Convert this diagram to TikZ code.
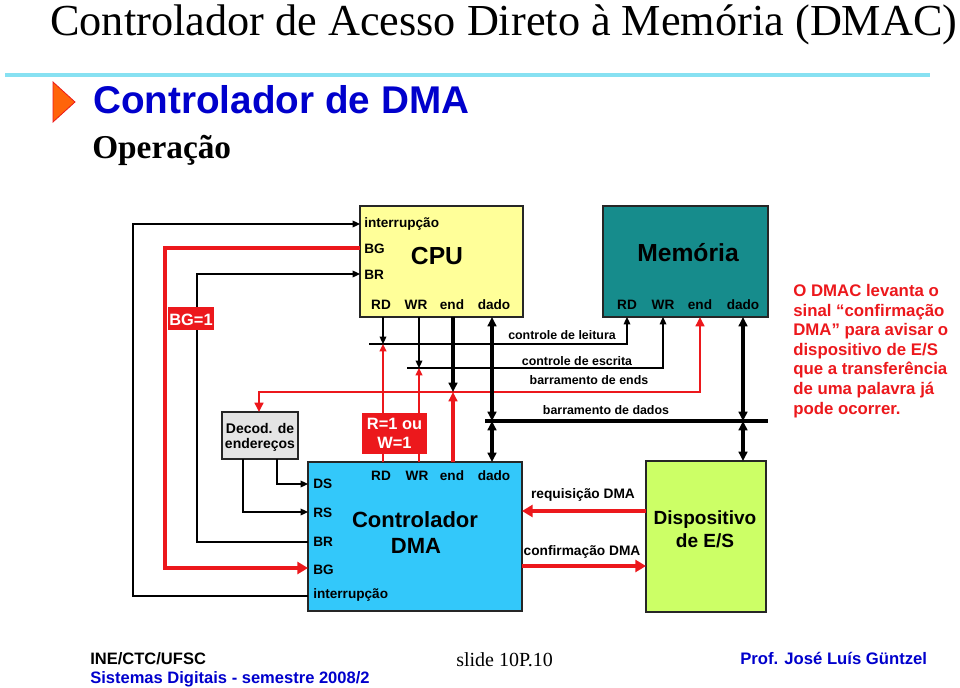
\documentclass[tikz,border=0pt]{standalone}
\usepackage{fontspec}
\setmainfont{Liberation Serif}
\setsansfont{Liberation Sans}
\usetikzlibrary{arrows.meta,fit}
\definecolor{cpuY}{RGB}{255,255,153}
\definecolor{memT}{RGB}{22,140,140}
\definecolor{dmaB}{RGB}{51,200,250}
\definecolor{ioG}{RGB}{204,255,102}
\definecolor{decG}{RGB}{228,228,228}
\definecolor{sigR}{RGB}{236,24,28}
\definecolor{titleB}{RGB}{0,0,204}
\definecolor{ruleC}{RGB}{135,225,242}
\definecolor{triO}{RGB}{255,100,10}
\newcommand{\fsz}[2]{\fontsize{#1}{#2}\selectfont}
\begin{document}
\begin{tikzpicture}[x=0.75pt,y=-0.75pt,
  boxst/.style={draw=black!85, line width=0.8pt, inner sep=0pt},
  lbl/.style={font=\sffamily\bfseries\fsz{10.2}{12}, inner sep=0pt, anchor=base},
  lblw/.style={lbl, anchor=base west},
  buslbl/.style={font=\sffamily\bfseries\fsz{9.3}{11}, inner sep=0pt, anchor=base},
  thinw/.style={line width=0.9pt, draw=black},
  thickw/.style={line width=2.3pt, draw=black},
  redthin/.style={line width=1.1pt, draw=sigR},
  redmid/.style={line width=1.8pt, draw=sigR},
  redthick/.style={line width=3pt, draw=sigR},
  tipS/.tip={Triangle[length=5.5pt,width=5pt]},
  tipM/.tip={Triangle[length=7pt,width=6.5pt]},
  tipL/.tip={Triangle[length=8pt,width=9pt]},
]
\useasboundingbox (0,0) rectangle (960,688);

% ---------- header ----------
\node[anchor=base west, inner sep=0pt, font=\rmfamily\fsz{33.2}{36}] (title) at (50,36)
  {Controlador de Acesso Direto à Memória (DMAC)};
\coordinate (ruleA) at (5,75);
\coordinate (ruleB) at (930,75);
\draw[ruleC, line width=2.3pt] (ruleA) -- (ruleB);
\filldraw[fill=triO, draw=sigR, line width=0.6pt] (53,82) -- (75,102) -- (53,122) -- cycle;
\node[anchor=base west, inner sep=0pt, text=titleB, font=\sffamily\bfseries\fsz{29}{32}] (sub) at (93,114)
  {Controlador de DMA};
\node[anchor=base west, inner sep=0pt, font=\rmfamily\bfseries\fsz{25}{28}] (oper) at (92,159)
  {Operação};

% ---------- boxes ----------
\coordinate (cpuA) at (360,206); \coordinate (cpuB) at (523,317);
\node[boxst, fill=cpuY, fit=(cpuA)(cpuB)] (cpu) {};
\coordinate (memA) at (603,206); \coordinate (memB) at (768,317);
\node[boxst, fill=memT, fit=(memA)(memB)] (mem) {};
\coordinate (dmaA) at (308,462); \coordinate (dmaB) at (522,611);
\node[boxst, fill=dmaB, fit=(dmaA)(dmaB)] (dma) {};
\coordinate (ioA) at (646,461); \coordinate (ioB) at (766,612);
\node[boxst, fill=ioG, fit=(ioA)(ioB)] (io) {};
\coordinate (decA) at (222,412); \coordinate (decB) at (298,459);
\node[boxst, fill=decG, fit=(decA)(decB)] (dec) {};

% CPU texts
\node[lblw] (cpuInt) at (364,228) {interrupção};
\node[lblw] (cpuBGt) at (364,253) {BG};
\node[lblw] (cpuBRt) at (364,279) {BR};
\node[lbl, font=\sffamily\bfseries\fsz{18.5}{20}] (cpuName) at (437,264) {CPU};
\node[lbl] (cpuRDt) at (381,309) {RD};
\node[lbl] (cpuWRt) at (416,309) {WR};
\node[lbl] (cpuEnt) at (452,309) {end};
\node[lbl] (cpuDat) at (494,309) {dado};

% Memory texts
\node[lbl, font=\sffamily\bfseries\fsz{18.5}{20}] (memName) at (688,261) {Memória};
\node[lbl] (memRDt) at (627,309) {RD};
\node[lbl] (memWRt) at (663,309) {WR};
\node[lbl] (memEnt) at (700,309) {end};
\node[lbl] (memDat) at (743,309) {dado};

% DMA texts
\node[lbl] (dmaRDt) at (381,480) {RD};
\node[lbl] (dmaWRt) at (417,480) {WR};
\node[lbl] (dmaEnt) at (452,480) {end};
\node[lbl] (dmaDat) at (494,480) {dado};
\node[lblw] (dmaDSt) at (313,488) {DS};
\node[lblw] (dmaRSt) at (313,517) {RS};
\node[lblw] (dmaBRt) at (313,546) {BR};
\node[lblw] (dmaBGt) at (313,574) {BG};
\node[lblw] (dmaIntt) at (313,598) {interrupção};
\node[lbl, font=\sffamily\bfseries\fsz{16.5}{19}] (dmaName1) at (415,527) {Controlador};
\node[lbl, font=\sffamily\bfseries\fsz{16.5}{19}] (dmaName2) at (416,553) {DMA};

% IO texts
\node[lbl, font=\sffamily\bfseries\fsz{14.3}{17}] (ioName1) at (705,524) {Dispositivo};
\node[lbl, font=\sffamily\bfseries\fsz{14.3}{17}] (ioName2) at (705,547) {de E/S};

% Decoder texts
\node[lbl, font=\sffamily\bfseries\fsz{10.5}{12}] (dec1) at (260,433) {Decod. de};
\node[lbl, font=\sffamily\bfseries\fsz{10.5}{12}] (dec2) at (260,448) {endereços};

% ---------- port coordinates ----------
\coordinate (cpuPInt) at (360,224);
\coordinate (cpuPBG) at (360,248);
\coordinate (cpuPBR) at (360,274);
\coordinate (cpuPRD) at (383,317);
\coordinate (cpuPWR) at (419,317);
\coordinate (cpuPEn) at (453,317);
\coordinate (cpuPDa) at (492,317);
\coordinate (memPRD) at (627,317);
\coordinate (memPWR) at (663,317);
\coordinate (memPEn) at (700,317);
\coordinate (memPDa) at (743,317);
\coordinate (dmaPRD) at (383,462);
\coordinate (dmaPWR) at (419,462);
\coordinate (dmaPEn) at (453,462);
\coordinate (dmaPDa) at (492,462);
\coordinate (dmaPDS) at (308,484);
\coordinate (dmaPRS) at (308,512);
\coordinate (dmaPBR) at (308,542);
\coordinate (dmaPBG) at (308,568);
\coordinate (dmaPInt) at (308,596);
\coordinate (dmaPReq) at (522,511);
\coordinate (dmaPAck) at (522,566);
\coordinate (ioPReq) at (646,511);
\coordinate (ioPAck) at (646,566);
\coordinate (ioPDa) at (743,461);
\coordinate (decPTop) at (259,412);
\coordinate (decPDS) at (277,459);
\coordinate (decPRS) at (243,459);

% bus junction coordinates
\coordinate (rdBusL) at (369,344);
\coordinate (rdJ) at (383,344);
\coordinate (wrBusL) at (407,368);
\coordinate (wrJ) at (419,368);
\coordinate (enJ) at (453,392);
\coordinate (datBusL) at (485,421);
\coordinate (datBusR) at (768,421);
\coordinate (datJ1) at (492,421);
\coordinate (datJ2) at (743,421);

% ---------- left loops ----------
\draw[thinw, -tipS] (dmaPInt) -- (133,596) |- (cpuPInt);
\draw[thinw, -tipS] (dmaPBR) -- (197,542) |- (cpuPBR);
\draw[redthick, -tipL] (cpuPBG) -- (165,248) |- (dmaPBG);
\draw[thinw, -tipS] (decPDS) |- (dmaPDS);
\draw[thinw, -tipS] (decPRS) |- (dmaPRS);

% ---------- buses ----------
\draw[thinw, -tipS] (rdBusL) -| (memPRD);
\draw[thinw, -tipS] (wrBusL) -| (memPWR);
\draw[redmid, tipM-tipM] (decPTop) -- (259,392) -| (memPEn);
\draw[thickw] (datBusL) -- (datBusR);

% CPU to buses
\draw[thinw, -tipS] (cpuPRD) -- (rdJ);
\draw[thinw, -tipS] (cpuPWR) -- (wrJ);
\draw[thickw, -tipM] (cpuPEn) -- (enJ);
\draw[thickw, tipM-tipM] (cpuPDa) -- (datJ1);
% memory to bus
\draw[thickw, tipM-tipM] (memPDa) -- (datJ2);
% DMA to buses
\draw[redthin, -tipS] (dmaPRD) -- (rdJ);
\draw[redthin, -tipS] (dmaPWR) -- (wrJ);
\draw[redthick, -tipM] (dmaPEn) -- (enJ);
\draw[thickw, tipM-tipM] (datJ1) -- (dmaPDa);
% IO to bus
\draw[thickw, tipM-tipM] (datJ2) -- (ioPDa);

% DMA <-> IO
\draw[redthick, -tipL] (ioPReq) -- (dmaPReq);
\draw[redthick, -tipL] (dmaPAck) -- (ioPAck);

% ---------- bus labels ----------
\node[buslbl] (lblLeit) at (562,339) {controle de leitura};
\node[buslbl] (lblEscr) at (577,365) {controle de escrita};
\node[buslbl] (lblEnds) at (589,384) {barramento de ends};
\node[buslbl] (lblDados) at (606,414) {barramento de dados};
\node[lbl, font=\sffamily\bfseries\fsz{10.3}{12}] (lblReq) at (583,498) {requisição DMA};
\node[lbl, font=\sffamily\bfseries\fsz{10.3}{12}] (lblAck) at (582,555) {confirmação DMA};

% ---------- red labels ----------
\coordinate (bgA) at (168,307); \coordinate (bgB) at (214,330);
\node[fill=sigR, inner sep=0pt, fit=(bgA)(bgB)] (bgBox) {};
\node[lbl, text=white, font=\sffamily\bfseries\fsz{12.3}{13.5}] (bgTxt) at (191,325) {BG=1};
\coordinate (rwA) at (362,413); \coordinate (rwB) at (427,454);
\node[fill=sigR, inner sep=0pt, fit=(rwA)(rwB)] (rwBox) {};
\node[lbl, text=white, font=\sffamily\bfseries\fsz{12.3}{13.5}] (rwTxt1) at (394.5,429) {R=1 ou};
\node[lbl, text=white, font=\sffamily\bfseries\fsz{12.3}{13.5}] (rwTxt2) at (394.5,448) {W=1};

% ---------- right note ----------
\node[anchor=north west, inner sep=0pt, align=left, text=sigR, font=\sffamily\bfseries\fsz{12.6}{14.7}] (note) at (793,284)
  {O DMAC levanta o\\sinal “confirmação\\DMA” para avisar o\\dispositivo de E/S\\que a transferência\\de uma palavra já\\pode ocorrer.};

% ---------- footer ----------
\node[anchor=base west, inner sep=0pt, font=\sffamily\bfseries\fsz{12.4}{14}] (f1) at (90,664) {INE/CTC/UFSC};
\node[anchor=base west, inner sep=0pt, text=titleB, font=\sffamily\bfseries\fsz{12.4}{14}] (f2) at (90,683) {Sistemas Digitais - semestre 2008/2};
\node[anchor=base west, inner sep=0pt, font=\rmfamily\fsz{15}{17}] (f3) at (456,666) {slide 10P.10};
\node[anchor=base west, inner sep=0pt, text=titleB, font=\sffamily\bfseries\fsz{12.5}{14}] (f4) at (740,664) {Prof. José Luís Güntzel};
\end{tikzpicture}
\end{document}
